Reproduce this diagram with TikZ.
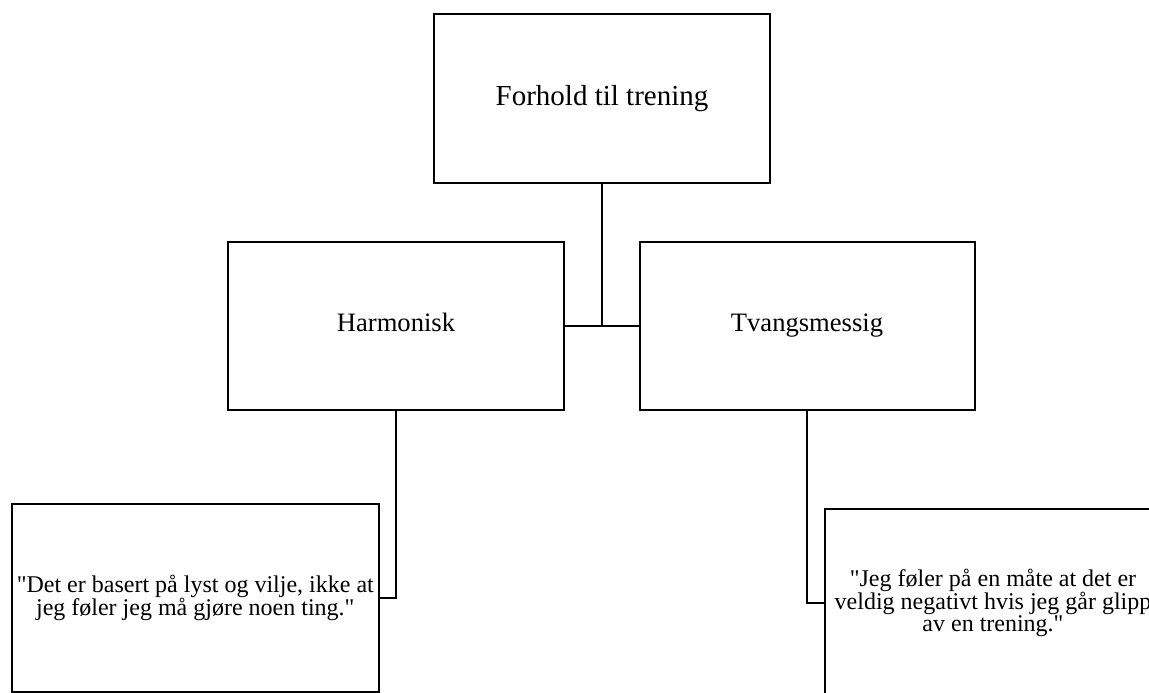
\documentclass[tikz,border=0pt]{standalone}
\usepackage{fontspec}
\setmainfont{Liberation Serif}[Ligatures=TeXOff]
\begin{document}
\begin{tikzpicture}[x=1pt,y=-1pt,
  box/.style={draw=black,line width=2pt,fill=white,inner sep=0pt,align=center},
  link/.style={draw=black,line width=2pt},
  headfont/.style={font=\fontsize{29}{33}\selectfont,text height=20pt,text depth=7pt},
  catfont/.style={font=\fontsize{26.6}{30}\selectfont,text height=18pt,text depth=8pt},
  quotefont/.style={font=\fontsize{24}{18}\selectfont}]
  \clip (0,0) rectangle (1149,693);
  \fill[white] (0,0) rectangle (1149,693);

  % hierarchy of boxes
  \node[box,headfont,minimum width=336pt,minimum height=169pt] (top) at (602,98.5) {Forhold til trening};
  \node[box,catfont,minimum width=336pt,minimum height=168pt] (harm) at (396,326) {Harmonisk};
  \node[box,catfont,minimum width=335pt,minimum height=168pt] (tvang) at (807,326) {Tvangsmessig};
  \node[box,quotefont,minimum width=367pt,minimum height=188pt] (lq) at (195.3,598)
    {"Det er basert på lyst og vilje, ikke at\\jeg føler jeg må gjøre noen ting."};
  \node[box,quotefont,minimum width=336pt,minimum height=188pt] (rq) at (993,603)
    {"Jeg føler på en måte at det er\\veldig negativt hvis jeg går glipp\\av en trening."};

  % connectors
  \draw[link] (harm.east) -- (tvang.west);
  \draw[link] (top.south) -- (top.south |- harm.east);
  \draw[link] (harm.south) |- (lq.east);
  \draw[link] (tvang.south) |- (rq.west);
\end{tikzpicture}
\end{document}
